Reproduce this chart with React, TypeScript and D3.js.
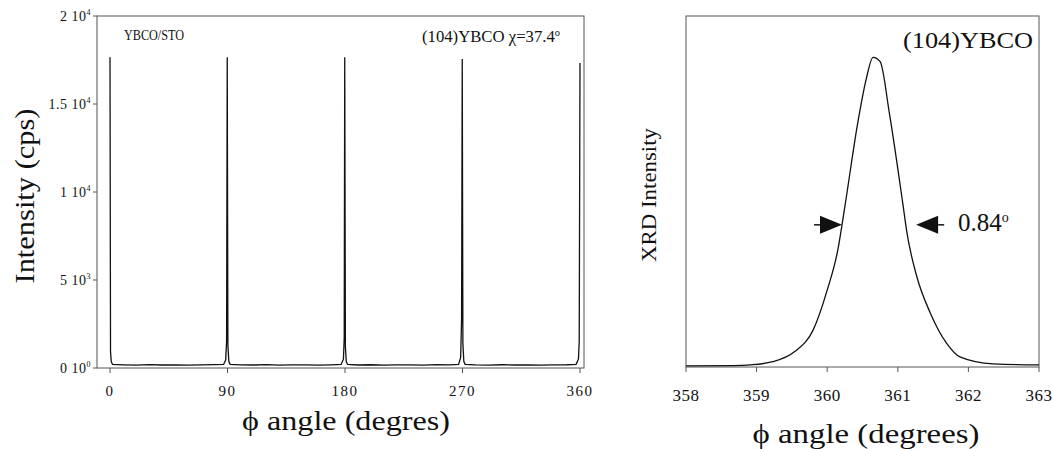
import React from "react";
import * as d3 from "d3";

// ── Data ──────────────────────────────────────────────────────
// Left panel: phi scan of (104) YBCO, intensity in cps
const PHI_SCAN_ANGLE = [
  0, 0.4, 1, 2, 10, 20, 30, 40, 50, 60, 70, 80, 87, 88.6, 89.3, 89.8, 90.3, 91, 92,
  100, 110, 120, 130, 140, 150, 160, 170, 177, 178.8, 179.4, 179.8, 180.3, 181, 182,
  190, 200, 210, 220, 230, 240, 250, 260, 267, 268.6, 269.3, 269.8, 270.3, 271, 272,
  280, 290, 300, 310, 320, 330, 340, 350, 357, 358.8, 359.4, 360,
];
const PHI_SCAN_CPS = [
  17650, 900, 350, 200, 180, 160, 190, 170, 180, 160, 175, 190, 200, 450, 1500, 17650, 1300, 380, 210,
  180, 170, 190, 160, 180, 175, 165, 180, 200, 500, 1700, 17650, 1200, 350, 200,
  170, 185, 160, 175, 180, 165, 190, 180, 200, 600, 2800, 17560, 1400, 380, 210,
  175, 165, 185, 170, 180, 160, 175, 185, 210, 500, 1500, 17330,
];
const LEFT_X_TICKS = [0, 90, 180, 270, 360];
const LEFT_Y_TICKS = [0, 5000, 10000, 15000, 20000];
const LEFT_Y_MANTISSA = ["0", "5", "1", "1.5", "2"];
const LEFT_Y_EXPONENT = ["0", "3", "4", "4", "4"];

// Right panel: zoom on the 360° peak, normalised intensity
const PEAK_ANGLE = [
  358.0, 358.67, 358.91, 359.23, 359.54, 359.8, 360.0, 360.15, 360.25, 360.44, 360.55,
  360.65, 360.75, 360.88, 361.07, 361.13, 361.27, 361.46, 361.69, 361.88, 362.35, 363.0,
];
const PEAK_INTENSITY = [
  0.003, 0.004, 0.006, 0.015, 0.044, 0.105, 0.219, 0.333, 0.457, 0.704, 0.818,
  0.882, 0.87, 0.724, 0.467, 0.382, 0.257, 0.154, 0.068, 0.029, 0.009, 0.006,
];
const RIGHT_X_TICKS = [358, 359, 360, 361, 362, 363];
const FWHM_LEVEL = 0.405;
const FWHM_EDGES = [360.21, 361.26];
const FWHM_LABEL = "0.84";

// ── Geometry ──────────────────────────────────────────────────
const W = 1053;
const H = 449;
const SERIF = "'Liberation Serif', 'Times New Roman', 'DejaVu Serif', serif";
const INK = "#111";
const AXIS = "#555";

const xL = d3.scaleLinear().domain([0, 360]).range([110, 580]);
const yL = d3.scaleLinear().domain([0, 20000]).range([368, 16]);
const L_BOX = { x0: 97, x1: 584, y0: 16, y1: 368 };

const xR = d3.scaleLinear().domain([358, 363]).range([686, 1039]);
const yR = d3.scaleLinear().domain([0, 1]).range([367, 16]);
const R_BOX = { x0: 686, x1: 1039, y0: 16, y1: 367 };

function Frame({ box }: { box: { x0: number; x1: number; y0: number; y1: number } }) {
  return (
    <rect
      x={box.x0}
      y={box.y0}
      width={box.x1 - box.x0}
      height={box.y1 - box.y0}
      fill="none"
      stroke={AXIS}
      strokeWidth={1}
    />
  );
}

function Arrow({ tip, y, dir }: { tip: number; y: number; dir: 1 | -1 }) {
  // dir = 1 points right, -1 points left
  const head = 22;
  const half = 9;
  const base = tip - dir * head;
  const tail = tip - dir * 28;
  return (
    <g>
      <line x1={tail} x2={base} y1={y} y2={y} stroke={INK} strokeWidth={1.5} />
      <path d={`M${tip},${y} L${base},${y - half} L${base},${y + half} Z`} fill={INK} />
    </g>
  );
}

export default function App() {
  const scanLine = d3
    .line<number>()
    .x((_d, i) => xL(PHI_SCAN_ANGLE[i]))
    .y((d) => yL(d))
    .curve(d3.curveLinear);

  const peakLine = d3
    .line<number>()
    .x((_d, i) => xR(PEAK_ANGLE[i]))
    .y((d) => yR(d))
    .curve(d3.curveMonotoneX);

  const fy = yR(FWHM_LEVEL);

  return (
    <svg
      width={W}
      height={H}
      style={{ position: "absolute", left: 0, top: 0, background: "#fff", fontFamily: SERIF }}
    >
      {/* ── Left panel ───────────────────────────── */}
      <Frame box={L_BOX} />
      {LEFT_Y_TICKS.map((t, i) => (
        <g key={t}>
          <line x1={L_BOX.x0 - 4} x2={L_BOX.x0} y1={yL(t)} y2={yL(t)} stroke={AXIS} />
          <text x={L_BOX.x0 - 6} y={yL(t) + 5} fontSize={14} textAnchor="end" fill={INK} letterSpacing={0.5}>
            {LEFT_Y_MANTISSA[i]} 10
            <tspan fontSize={8} dy={-6}>{LEFT_Y_EXPONENT[i]}</tspan>
          </text>
        </g>
      ))}
      {LEFT_X_TICKS.map((t) => (
        <g key={t}>
          <line x1={xL(t)} x2={xL(t)} y1={L_BOX.y1} y2={L_BOX.y1 + 5} stroke={AXIS} />
          <text x={xL(t)} y={396} fontSize={15} textAnchor="middle" fill={INK} letterSpacing={1.5}>
            {t}
          </text>
        </g>
      ))}
      <path d={scanLine(PHI_SCAN_CPS) ?? ""} fill="none" stroke={INK} strokeWidth={1.3} />
      <text x={124} y={40} fontSize={14} fill={INK} textLength={60} lengthAdjust="spacingAndGlyphs">
        YBCO/STO
      </text>
      <text x={422} y={42} fontSize={16} fill={INK} textLength={138} lengthAdjust="spacingAndGlyphs">
        (104)YBCO  χ=37.4<tspan fontSize={10} dy={-6}>o</tspan>
      </text>
      <text
        transform={`translate(34,196) rotate(-90)`}
        fontSize={28}
        textAnchor="middle"
        fill={INK}
        textLength={175}
        lengthAdjust="spacingAndGlyphs"
      >
        Intensity (cps)
      </text>
      <text
        x={346}
        y={430}
        fontSize={28}
        textAnchor="middle"
        fill={INK}
        textLength={208}
        lengthAdjust="spacingAndGlyphs"
      >
        ϕ angle (degres)
      </text>

      {/* ── Right panel ──────────────────────────── */}
      <Frame box={R_BOX} />
      {RIGHT_X_TICKS.map((t) => (
        <g key={t}>
          <line x1={xR(t)} x2={xR(t)} y1={R_BOX.y1} y2={R_BOX.y1 + 5} stroke={AXIS} />
          <text x={xR(t)} y={401} fontSize={17} textAnchor="middle" fill={INK} letterSpacing={0.5}>
            {t}
          </text>
        </g>
      ))}
      <path d={peakLine(PEAK_INTENSITY) ?? ""} fill="none" stroke={INK} strokeWidth={1.3} />
      <Arrow tip={xR(FWHM_EDGES[0])} y={fy} dir={1} />
      <Arrow tip={xR(FWHM_EDGES[1])} y={fy} dir={-1} />
      <text x={958} y={231} fontSize={25} fill={INK}>
        {FWHM_LABEL}<tspan fontSize={14} dy={-9}>o</tspan>
      </text>
      <text
        x={903}
        y={48}
        fontSize={24}
        fill={INK}
        textLength={130}
        lengthAdjust="spacingAndGlyphs"
      >
        (104)YBCO
      </text>
      <text
        transform={`translate(656,195) rotate(-90)`}
        fontSize={21}
        textAnchor="middle"
        fill={INK}
        textLength={134}
        lengthAdjust="spacingAndGlyphs"
      >
        XRD Intensity
      </text>
      <text
        x={866}
        y={443}
        fontSize={28}
        textAnchor="middle"
        fill={INK}
        textLength={227}
        lengthAdjust="spacingAndGlyphs"
      >
        ϕ angle (degrees)
      </text>
    </svg>
  );
}
